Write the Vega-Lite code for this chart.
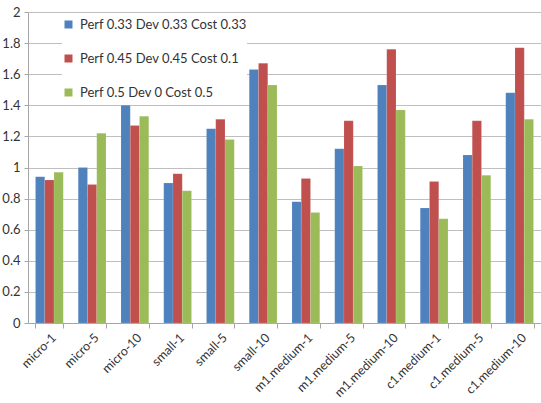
{
  "$schema": "https://vega.github.io/schema/vega-lite/v6.json",
  "autosize": "none",
  "width": 513,
  "height": 311,
  "padding": {"left": 28, "top": 12, "right": 0, "bottom": 80},
  "background": "white",
  "config": {
    "font": "Lato",
    "view": {"stroke": null},
    "axis": {"labelFont": "Lato", "labelColor": "#333333", "labelFontSize": 13, "domainColor": "#a6a6a6", "tickColor": "#a6a6a6", "gridColor": "#bfbfbf", "gridWidth": 1}
  },
  "data": {"values": [
    {"cat": "micro-1", "series": "Perf 0.33 Dev 0.33 Cost 0.33", "value": 0.94},
    {"cat": "micro-1", "series": "Perf 0.45 Dev 0.45 Cost 0.1", "value": 0.92},
    {"cat": "micro-1", "series": "Perf 0.5 Dev 0 Cost 0.5", "value": 0.97},
    {"cat": "micro-5", "series": "Perf 0.33 Dev 0.33 Cost 0.33", "value": 1.0},
    {"cat": "micro-5", "series": "Perf 0.45 Dev 0.45 Cost 0.1", "value": 0.89},
    {"cat": "micro-5", "series": "Perf 0.5 Dev 0 Cost 0.5", "value": 1.22},
    {"cat": "micro-10", "series": "Perf 0.33 Dev 0.33 Cost 0.33", "value": 1.40},
    {"cat": "micro-10", "series": "Perf 0.45 Dev 0.45 Cost 0.1", "value": 1.27},
    {"cat": "micro-10", "series": "Perf 0.5 Dev 0 Cost 0.5", "value": 1.33},
    {"cat": "small-1", "series": "Perf 0.33 Dev 0.33 Cost 0.33", "value": 0.90},
    {"cat": "small-1", "series": "Perf 0.45 Dev 0.45 Cost 0.1", "value": 0.96},
    {"cat": "small-1", "series": "Perf 0.5 Dev 0 Cost 0.5", "value": 0.85},
    {"cat": "small-5", "series": "Perf 0.33 Dev 0.33 Cost 0.33", "value": 1.25},
    {"cat": "small-5", "series": "Perf 0.45 Dev 0.45 Cost 0.1", "value": 1.31},
    {"cat": "small-5", "series": "Perf 0.5 Dev 0 Cost 0.5", "value": 1.18},
    {"cat": "small-10", "series": "Perf 0.33 Dev 0.33 Cost 0.33", "value": 1.63},
    {"cat": "small-10", "series": "Perf 0.45 Dev 0.45 Cost 0.1", "value": 1.67},
    {"cat": "small-10", "series": "Perf 0.5 Dev 0 Cost 0.5", "value": 1.53},
    {"cat": "m1.medium-1", "series": "Perf 0.33 Dev 0.33 Cost 0.33", "value": 0.78},
    {"cat": "m1.medium-1", "series": "Perf 0.45 Dev 0.45 Cost 0.1", "value": 0.93},
    {"cat": "m1.medium-1", "series": "Perf 0.5 Dev 0 Cost 0.5", "value": 0.71},
    {"cat": "m1.medium-5", "series": "Perf 0.33 Dev 0.33 Cost 0.33", "value": 1.12},
    {"cat": "m1.medium-5", "series": "Perf 0.45 Dev 0.45 Cost 0.1", "value": 1.30},
    {"cat": "m1.medium-5", "series": "Perf 0.5 Dev 0 Cost 0.5", "value": 1.01},
    {"cat": "m1.medium-10", "series": "Perf 0.33 Dev 0.33 Cost 0.33", "value": 1.53},
    {"cat": "m1.medium-10", "series": "Perf 0.45 Dev 0.45 Cost 0.1", "value": 1.76},
    {"cat": "m1.medium-10", "series": "Perf 0.5 Dev 0 Cost 0.5", "value": 1.37},
    {"cat": "c1.medium-1", "series": "Perf 0.33 Dev 0.33 Cost 0.33", "value": 0.74},
    {"cat": "c1.medium-1", "series": "Perf 0.45 Dev 0.45 Cost 0.1", "value": 0.91},
    {"cat": "c1.medium-1", "series": "Perf 0.5 Dev 0 Cost 0.5", "value": 0.67},
    {"cat": "c1.medium-5", "series": "Perf 0.33 Dev 0.33 Cost 0.33", "value": 1.08},
    {"cat": "c1.medium-5", "series": "Perf 0.45 Dev 0.45 Cost 0.1", "value": 1.30},
    {"cat": "c1.medium-5", "series": "Perf 0.5 Dev 0 Cost 0.5", "value": 0.95},
    {"cat": "c1.medium-10", "series": "Perf 0.33 Dev 0.33 Cost 0.33", "value": 1.48},
    {"cat": "c1.medium-10", "series": "Perf 0.45 Dev 0.45 Cost 0.1", "value": 1.77},
    {"cat": "c1.medium-10", "series": "Perf 0.5 Dev 0 Cost 0.5", "value": 1.31}
  ]},
  "mark": {"type": "bar", "stroke": "white", "strokeWidth": 0.3, "strokeOpacity": 0.4},
  "encoding": {
    "x": {
      "field": "cat", "type": "nominal", "sort": null, "title": null,
      "scale": {"paddingInner": 0.35, "paddingOuter": 0.175},
      "axis": {"labelAngle": -45, "labelAlign": "right", "labelBaseline": "top", "labelPadding": 3, "labelFontSize": 12.5, "tickBand": "extent", "tickSize": 5, "grid": false, "domainColor": "#a6a6a6"}
    },
    "xOffset": {"field": "series", "type": "nominal", "scale": {"paddingInner": 0, "paddingOuter": 0}},
    "y": {
      "field": "value", "type": "quantitative", "title": null,
      "scale": {"domain": [0, 2], "nice": false},
      "axis": {"values": [0, 0.2, 0.4, 0.6, 0.8, 1, 1.2, 1.4, 1.6, 1.8, 2], "format": "~g", "tickSize": 4, "labelPadding": 4, "grid": true}
    },
    "color": {
      "field": "series", "type": "nominal",
      "scale": {"domain": ["Perf 0.33 Dev 0.33 Cost 0.33", "Perf 0.45 Dev 0.45 Cost 0.1", "Perf 0.5 Dev 0 Cost 0.5"], "range": ["#4F81BD", "#C0504D", "#9BBB59"]},
      "legend": {"title": null, "orient": "none", "legendX": 34, "legendY": 6, "padding": 0, "symbolType": "square", "symbolSize": 64, "symbolStrokeWidth": 0, "labelFont": "Lato", "labelFontSize": 13, "labelColor": "#333333", "labelLimit": 0, "rowPadding": 20, "labelOffset": 5, "fillColor": "white"}
    }
  }
}
